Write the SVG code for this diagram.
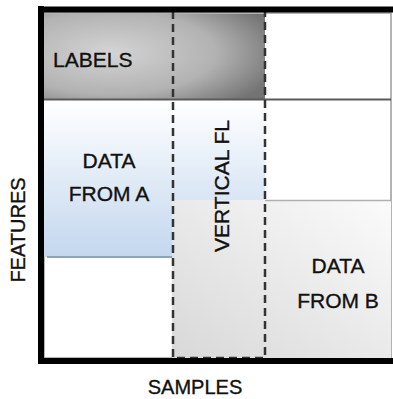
<svg xmlns="http://www.w3.org/2000/svg" width="393" height="399" viewBox="0 0 393 399">
<defs>
<style>
text{font-family:"Liberation Sans",Arial,sans-serif;fill:#111;stroke:#111;stroke-width:0.35;}
.lbl{font-size:21px;}
.axis{font-size:20px;}
</style>
<radialGradient id="gLab" cx="0.3" cy="0.45" r="0.8">
<stop offset="0" stop-color="#d4d4d4"/>
<stop offset="0.6" stop-color="#b2b2b2"/>
<stop offset="1" stop-color="#737373"/>
</radialGradient>
<linearGradient id="gBlue" x1="0" y1="100" x2="0" y2="257" gradientUnits="userSpaceOnUse">
<stop offset="0" stop-color="#ffffff"/>
<stop offset="1" stop-color="#c3d7ee"/>
</linearGradient>
<linearGradient id="gB" x1="1" y1="0" x2="0" y2="1">
<stop offset="0" stop-color="#fbfbfb"/>
<stop offset="1" stop-color="#d8d8d8"/>
</linearGradient>
</defs>
<rect width="393" height="399" fill="#fff"/>
<g id="frame">
<rect x="44" y="13" width="347" height="345" fill="#fff" stroke="#9a9a9a" stroke-width="1.5"/>
</g>
<g id="labels">
<rect x="44" y="14" width="221" height="86" fill="url(#gLab)"/>
<text class="lbl" x="53" y="67">LABELS</text>
</g>
<g id="dataA">
<path d="M44 100 H265 V200 H172 V257 H44 Z" fill="url(#gBlue)"/>
<line x1="47" y1="257" x2="172" y2="257" stroke="#8ea3ba" stroke-width="2"/>
<text class="lbl" x="109" y="168" text-anchor="middle">DATA</text>
<text class="lbl" x="109" y="201" text-anchor="middle">FROM A</text>
</g>
<g id="dataB">
<rect x="172" y="200" width="219" height="158" fill="url(#gB)"/>
<text class="lbl" x="338" y="273" text-anchor="middle">DATA</text>
<text class="lbl" x="338" y="308" text-anchor="middle">FROM  B</text>
</g>
<g id="connectors">
<line x1="44" y1="99.5" x2="391" y2="99.5" stroke="#5a5a5a" stroke-width="2"/>
<line x1="265" y1="200.5" x2="391" y2="200.5" stroke="#b0b0b0" stroke-width="1.5"/>
</g>
<g id="verticalFL">
<rect x="173" y="10" width="92" height="348" fill="none" stroke="#333" stroke-width="2.5" stroke-dasharray="8 5"/>
<text class="lbl" transform="translate(229 186) rotate(-90)" text-anchor="middle">VERTICAL FL</text>
</g>
<g id="axes">
<path d="M41 6 V361 H393" fill="none" stroke="#000" stroke-width="6"/>
<line x1="41" y1="9.5" x2="393" y2="9.5" stroke="#000" stroke-width="6"/>
<text class="axis" transform="translate(25 230) rotate(-90)" text-anchor="middle">FEATURES</text>
<text class="axis" x="195" y="394" text-anchor="middle">SAMPLES</text>
</g>
</svg>
